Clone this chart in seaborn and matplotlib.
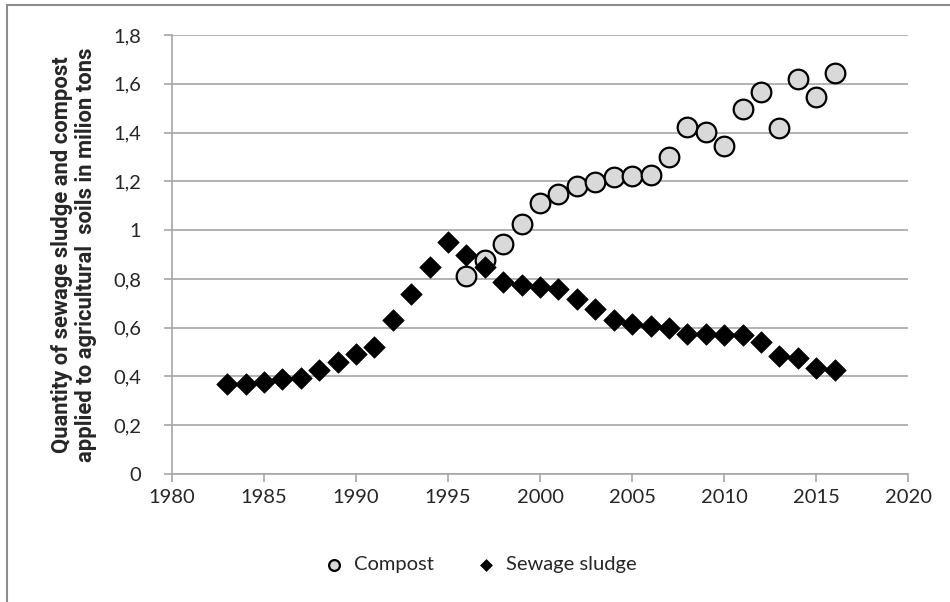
import pandas as pd
import numpy as np
import matplotlib.pyplot as plt
import seaborn as sns
from matplotlib.patches import Rectangle
from matplotlib.ticker import FuncFormatter

# Values (million tons)
sludge_years = list(range(1983, 2017))
sludge_values = [0.367, 0.371, 0.378, 0.388, 0.395, 0.426, 0.46, 0.49, 0.522, 0.631,
                 0.736, 0.847, 0.95, 0.898, 0.85, 0.788, 0.775, 0.768, 0.757, 0.716,
                 0.675, 0.631, 0.615, 0.607, 0.597, 0.576, 0.574, 0.57, 0.57, 0.542,
                 0.484, 0.474, 0.433, 0.426]
compost_years = list(range(1996, 2017))
compost_values = [0.811, 0.877, 0.943, 1.027, 1.112, 1.148, 1.182, 1.198, 1.218, 1.221,
                  1.225, 1.30, 1.423, 1.403, 1.344, 1.495, 1.567, 1.417, 1.619, 1.546,
                  1.646]

x_ticks = [1980, 1985, 1990, 1995, 2000, 2005, 2010, 2015, 2020]
y_ticks = [0, 0.2, 0.4, 0.6, 0.8, 1.0, 1.2, 1.4, 1.6, 1.8]

compost = pd.DataFrame({'year': compost_years, 'value': compost_values})
sludge = pd.DataFrame({'year': sludge_years, 'value': sludge_values})

sns.set_style('white')
plt.rcParams['font.family'] = ['Lato', 'DejaVu Sans']

fig = plt.figure(figsize=(9.5, 6.02), dpi=100)
ax = fig.add_axes([0.181, 0.2126, 0.775, 0.7293])

sns.scatterplot(data=compost, x='year', y='value', ax=ax, marker='o', s=200,
                color='#d9d9d9', edgecolor='black', linewidth=1.6, label='Compost', zorder=3)
sns.scatterplot(data=sludge, x='year', y='value', ax=ax, marker='D', s=120,
                color='black', edgecolor='black', linewidth=0.5, label='Sewage sludge', zorder=3)

ax.set_xlim(1980, 2020)
ax.set_ylim(0, 1.8)
ax.set_xticks(x_ticks)
ax.set_yticks(y_ticks)
ax.yaxis.set_major_formatter(FuncFormatter(lambda v, p: f'{v:g}'.replace('.', ',')))
ax.grid(axis='y', color='#a6a6a6', linewidth=1.2)
ax.set_axisbelow(True)
for side in ['top', 'right']:
    ax.spines[side].set_visible(False)
for side in ['left', 'bottom']:
    ax.spines[side].set_color('#a6a6a6')
    ax.spines[side].set_linewidth(1.2)
ax.tick_params(axis='both', which='major', direction='out', length=6, width=1.2,
               color='#a6a6a6', labelsize=14.5, labelcolor='#262626', left=True, bottom=True)
ax.tick_params(axis='y', pad=16)
ax.tick_params(axis='x', pad=5)
ax.set_xlabel('')
ax.set_ylabel('Quantity of sewage sludge and compost\napplied to agricultural  soils in milion tons',
              fontsize=15.8, fontweight='bold', family=['Roboto', 'DejaVu Sans'],
              labelpad=12, linespacing=1.1)

ax.legend(loc='center', bbox_to_anchor=(0.5, 0.062), bbox_transform=fig.transFigure,
          ncol=2, frameon=False, fontsize=14.5, handletextpad=0.0, columnspacing=1.6,
          markerscale=0.55)

# chart-area border
fig.patches.append(Rectangle((7 / 950, -0.05), 1.1, 1 - 5 / 602 + 0.05, transform=fig.transFigure,
                             fill=False, edgecolor='#8c8c8c', linewidth=1.5))

fig.savefig('out.png', dpi=100)
